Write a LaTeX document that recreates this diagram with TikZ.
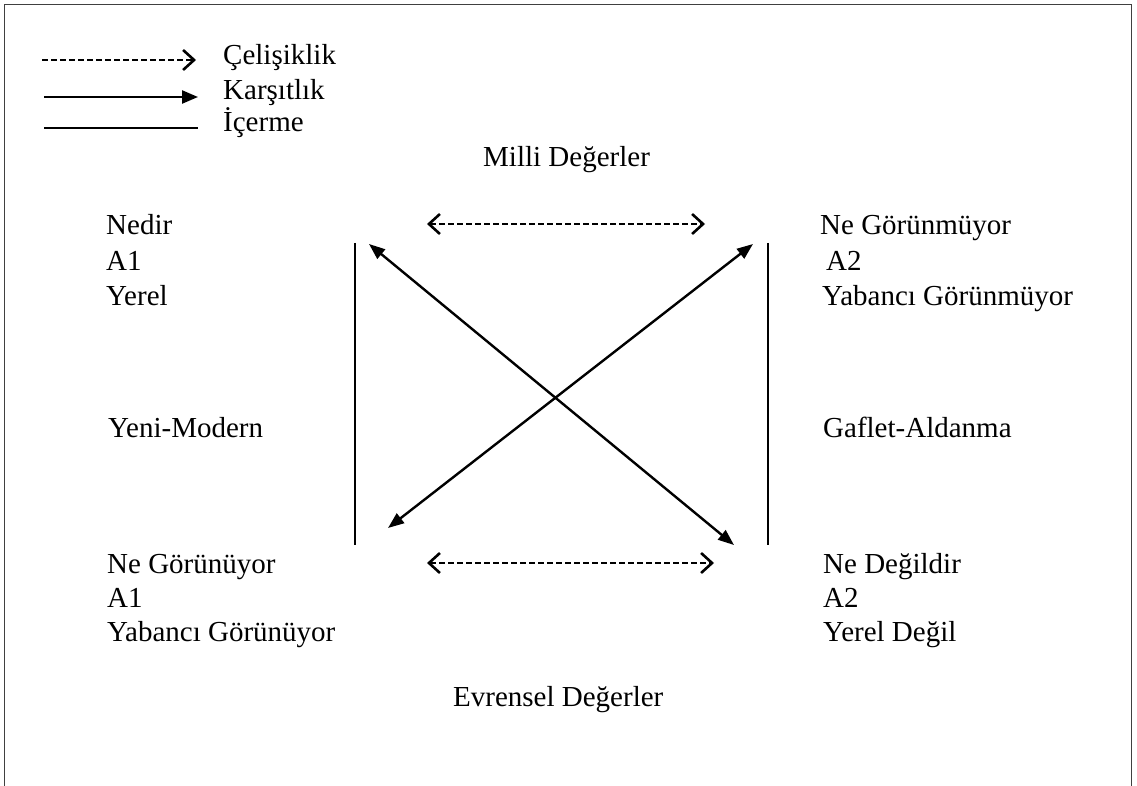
\documentclass[tikz,border=0pt]{standalone}
\usepackage{fontspec}
\setmainfont{Liberation Serif}
\usetikzlibrary{arrows.meta}
\begin{document}
\begin{tikzpicture}[x=1pt,y=-1pt,
  lbl/.style={anchor=base west,inner sep=0pt,font=\fontsize{29}{35}\selectfont},
  frameline/.style={draw=black!75,line width=1.6pt},
  conline/.style={line width=2.4pt},
  contra/.style={line width=2.4pt,dash pattern=on 6pt off 3pt,
     {Straight Barb[length=11pt,width=20pt,line width=2.6pt]}-{Straight Barb[length=11pt,width=20pt,line width=2.6pt]}},
  contraleg/.style={line width=2.4pt,dash pattern=on 6pt off 3pt,
     -{Straight Barb[length=11pt,width=20pt,line width=2.6pt]}},
  opp/.style={line width=2.4pt,{Triangle[length=16pt,width=12pt]}-{Triangle[length=16pt,width=12pt]}},
  oppleg/.style={line width=2.4pt,-{Triangle[length=16pt,width=13pt]}}]
\useasboundingbox (0,0) rectangle (1137,786);
% frame (open at the bottom)
\draw[frameline] (4.5,786) -- (4.5,4.5) -- (1131.5,4.5) -- (1131.5,786);

% legend
\coordinate (l1a) at (42,60);  \coordinate (l1b) at (196,60);
\coordinate (l2a) at (44,97);  \coordinate (l2b) at (198,97);
\coordinate (l3a) at (44,128); \coordinate (l3b) at (198,128);
\draw[contraleg] (l1a) -- (l1b);
\draw[oppleg] (l2a) -- (l2b);
\draw[conline] (l3a) -- (l3b);
\node[lbl] (leg1) at (223,65) {Çelişiklik};
\node[lbl] (leg2) at (223,100) {Karşıtlık};
\node[lbl] (leg3) at (223,132) {İçerme};

% titles
\node[lbl] (milli) at (483,167) {Milli Değerler};
\node[lbl] (evrensel) at (453,706) {Evrensel Değerler};

% top-left block
\node[lbl] (tl1) at (106,235) {Nedir};
\node[lbl] (tl2) at (106,270) {A1};
\node[lbl] (tl3) at (106,305) {Yerel};
% top-right block
\node[lbl] (tr1) at (820,235) {Ne Görünmüyor};
\node[lbl] (tr2) at (826,270) {A2};
\node[lbl] (tr3) at (822,305) {Yabancı Görünmüyor};
% middle
\node[lbl] (ml) at (108,437) {Yeni-Modern};
\node[lbl] (mr) at (823,437) {Gaflet-Aldanma};
% bottom-left block
\node[lbl] (bl1) at (107,573) {Ne Görünüyor};
\node[lbl] (bl2) at (107,607) {A1};
\node[lbl] (bl3) at (107,641) {Yabancı Görünüyor};
% bottom-right block
\node[lbl] (br1) at (823,573) {Ne Değildir};
\node[lbl] (br2) at (823,607) {A2};
\node[lbl] (br3) at (823,641) {Yerel Değil};

% connector end points
\coordinate (vlt) at (355,243); \coordinate (vlb) at (355,545);
\coordinate (vrt) at (768,243); \coordinate (vrb) at (768,545);
\coordinate (ht1) at (427,224); \coordinate (ht2) at (705,224);
\coordinate (hb1) at (427,563); \coordinate (hb2) at (714,563);
\coordinate (dA1) at (369,244); \coordinate (dA2) at (734,545);
\coordinate (dB1) at (388,528); \coordinate (dB2) at (753,244);

% implication lines
\draw[conline] (vlt) -- (vlb);
\draw[conline] (vrt) -- (vrb);
% contradiction arrows
\draw[contra] (ht1) -- (ht2);
\draw[contra] (hb1) -- (hb2);
% contrariety arrows
\draw[opp] (dA1) -- (dA2);
\draw[opp] (dB1) -- (dB2);
\end{tikzpicture}
\end{document}
